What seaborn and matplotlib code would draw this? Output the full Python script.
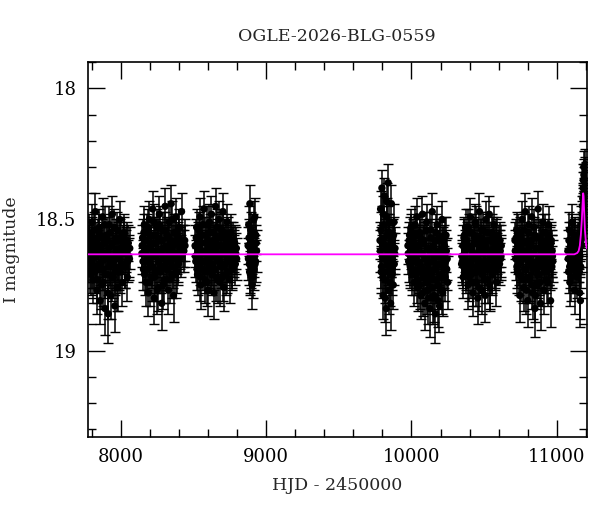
import numpy as np
import pandas as pd
import matplotlib
matplotlib.use('Agg')
import matplotlib.pyplot as plt
from matplotlib.ticker import MultipleLocator, FormatStrFormatter
import seaborn as sns

# ---- observing seasons: HJD-2450000, I mag, error ----
# Season 1
t1 = [7776, 7781, 7787, 7792, 7798, 7803, 7809, 7815, 7820, 7826, 7831, 7837, 7842, 7848, 7854,
      7859, 7865, 7870, 7876, 7882, 7887, 7893, 7898, 7904, 7910, 7915, 7921, 7926, 7932, 7938,
      7943, 7949, 7954, 7960, 7966, 7971, 7977, 7982, 7988, 7994, 7999, 8005, 8011, 8017, 8024,
      8031, 8038, 8046, 8053, 8061]
m1 = [18.62, 18.55, 18.70, 18.58, 18.66, 18.51, 18.73, 18.60, 18.68, 18.47,
      18.64, 18.77, 18.57, 18.69, 18.53, 18.81, 18.61, 18.66, 18.49, 18.74,
      18.59, 18.84, 18.63, 18.56, 18.71, 18.86, 18.52, 18.67, 18.79, 18.60,
      18.48, 18.72, 18.65, 18.83, 18.57, 18.69, 18.54, 18.76, 18.62, 18.50,
      18.70, 18.58, 18.74, 18.63, 18.55, 18.68, 18.61, 18.72, 18.59, 18.65]
e1 = [0.08, 0.07, 0.08, 0.07, 0.08, 0.07, 0.09, 0.07, 0.08, 0.07,
      0.08, 0.09, 0.07, 0.08, 0.07, 0.09, 0.08, 0.08, 0.07, 0.09,
      0.07, 0.10, 0.08, 0.07, 0.08, 0.11, 0.07, 0.08, 0.09, 0.08,
      0.07, 0.08, 0.08, 0.10, 0.07, 0.08, 0.07, 0.09, 0.08, 0.07,
      0.08, 0.07, 0.09, 0.08, 0.07, 0.08, 0.08, 0.09, 0.07, 0.08]
t1b = [7778, 7784, 7790, 7795, 7800, 7806, 7812, 7817, 7823, 7829, 7834, 7840, 7845, 7851, 7857,
       7862, 7868, 7873, 7879, 7885, 7890, 7896, 7901, 7907, 7913, 7918, 7924, 7929, 7935, 7941,
       7946, 7952, 7957, 7963, 7969, 7974, 7980, 7985, 7991, 7997, 8002, 8008, 8014, 8020, 8027,
       8034, 8042, 8049, 8056, 8063]
m1b = [18.66, 18.59, 18.63, 18.71, 18.56, 18.68, 18.61, 18.54, 18.70, 18.64,
       18.58, 18.73, 18.62, 18.55, 18.67, 18.60, 18.75, 18.57, 18.69, 18.63,
       18.52, 18.71, 18.65, 18.58, 18.78, 18.61, 18.68, 18.55, 18.64, 18.72,
       18.59, 18.66, 18.53, 18.70, 18.62, 18.76, 18.58, 18.65, 18.69, 18.57,
       18.63, 18.67, 18.60, 18.56, 18.68, 18.62, 18.58, 18.66, 18.64, 18.61]
e1b = [0.08, 0.07, 0.08, 0.08, 0.07, 0.08, 0.08, 0.07, 0.08, 0.08,
       0.07, 0.09, 0.08, 0.07, 0.08, 0.08, 0.09, 0.07, 0.08, 0.08,
       0.07, 0.09, 0.08, 0.07, 0.10, 0.08, 0.08, 0.07, 0.08, 0.09,
       0.07, 0.08, 0.07, 0.09, 0.08, 0.09, 0.07, 0.08, 0.08, 0.07,
       0.08, 0.08, 0.08, 0.07, 0.08, 0.08, 0.07, 0.08, 0.08, 0.08]

# Season 2
t2 = [8146, 8151, 8157, 8163, 8168, 8174, 8180, 8186, 8191, 8197, 8203, 8209, 8214, 8220, 8226,
      8232, 8237, 8243, 8249, 8255, 8260, 8266, 8272, 8278, 8283, 8289, 8295, 8301, 8306, 8312,
      8318, 8324, 8329, 8335, 8341, 8347, 8352, 8358, 8364, 8370, 8375, 8381, 8387, 8393, 8398,
      8404, 8410, 8419, 8430, 8441]
m2 = [18.63, 18.57, 18.69, 18.52, 18.66, 18.74, 18.55, 18.61, 18.78, 18.50,
      18.67, 18.59, 18.72, 18.46, 18.64, 18.80, 18.56, 18.70, 18.53, 18.62,
      18.76, 18.48, 18.68, 18.58, 18.82, 18.54, 18.65, 18.73, 18.45, 18.61,
      18.69, 18.57, 18.77, 18.51, 18.66, 18.44, 18.71, 18.60, 18.79, 18.55,
      18.64, 18.49, 18.70, 18.58, 18.67, 18.53, 18.62, 18.47, 18.60, 18.58]
e2 = [0.08, 0.07, 0.08, 0.07, 0.08, 0.09, 0.07, 0.08, 0.09, 0.07,
      0.08, 0.07, 0.09, 0.07, 0.08, 0.10, 0.07, 0.08, 0.07, 0.08,
      0.09, 0.07, 0.08, 0.07, 0.10, 0.07, 0.08, 0.09, 0.07, 0.08,
      0.08, 0.07, 0.09, 0.07, 0.08, 0.07, 0.09, 0.08, 0.10, 0.07,
      0.08, 0.07, 0.08, 0.07, 0.08, 0.07, 0.08, 0.07, 0.08, 0.08]
t2b = [8148, 8154, 8160, 8165, 8171, 8177, 8183, 8188, 8194, 8200, 8206, 8211, 8217, 8223, 8229,
       8234, 8240, 8246, 8252, 8257, 8263, 8269, 8275, 8280, 8286, 8292, 8298, 8303, 8309, 8315,
       8321, 8326, 8332, 8338, 8344, 8349, 8355, 8361, 8367, 8372, 8378, 8384, 8390, 8395, 8401,
       8407, 8414, 8424, 8435, 8443]
m2b = [18.60, 18.66, 18.55, 18.71, 18.63, 18.58, 18.69, 18.53, 18.65, 18.74,
       18.61, 18.56, 18.68, 18.62, 18.51, 18.72, 18.64, 18.59, 18.77, 18.57,
       18.66, 18.52, 18.70, 18.63, 18.58, 18.75, 18.61, 18.54, 18.67, 18.69,
       18.56, 18.64, 18.60, 18.73, 18.58, 18.62, 18.50, 18.68, 18.65, 18.59,
       18.71, 18.55, 18.63, 18.66, 18.57, 18.61, 18.64, 18.59, 18.62, 18.60]
e2b = [0.08, 0.08, 0.07, 0.08, 0.08, 0.07, 0.08, 0.07, 0.08, 0.09,
       0.08, 0.07, 0.08, 0.08, 0.07, 0.09, 0.08, 0.07, 0.09, 0.07,
       0.08, 0.07, 0.08, 0.08, 0.07, 0.09, 0.08, 0.07, 0.08, 0.08,
       0.07, 0.08, 0.08, 0.09, 0.07, 0.08, 0.07, 0.08, 0.08, 0.07,
       0.09, 0.07, 0.08, 0.08, 0.07, 0.08, 0.08, 0.07, 0.08, 0.08]

# Season 3
t3 = [8512, 8517, 8523, 8529, 8534, 8540, 8546, 8551, 8557, 8563, 8568, 8574, 8580, 8585, 8591,
      8597, 8602, 8608, 8614, 8619, 8625, 8631, 8636, 8642, 8648, 8653, 8659, 8665, 8670, 8676,
      8682, 8687, 8693, 8699, 8704, 8710, 8716, 8721, 8727, 8733, 8738, 8744, 8750, 8756, 8762,
      8768, 8775, 8782, 8789, 8796]
m3 = [18.60, 18.66, 18.53, 18.71, 18.58, 18.64, 18.49, 18.75, 18.62, 18.56,
      18.69, 18.46, 18.73, 18.59, 18.66, 18.52, 18.77, 18.61, 18.55, 18.70,
      18.48, 18.67, 18.58, 18.78, 18.63, 18.45, 18.72, 18.57, 18.65, 18.50,
      18.74, 18.60, 18.54, 18.68, 18.47, 18.76, 18.62, 18.57, 18.71, 18.51,
      18.66, 18.59, 18.73, 18.55, 18.64, 18.69, 18.58, 18.62, 18.67, 18.61]
e3 = [0.08, 0.08, 0.07, 0.08, 0.07, 0.08, 0.07, 0.09, 0.08, 0.07,
      0.08, 0.07, 0.09, 0.07, 0.08, 0.07, 0.10, 0.08, 0.07, 0.08,
      0.07, 0.08, 0.07, 0.10, 0.08, 0.07, 0.09, 0.07, 0.08, 0.07,
      0.09, 0.08, 0.07, 0.08, 0.07, 0.09, 0.08, 0.07, 0.08, 0.07,
      0.08, 0.07, 0.09, 0.07, 0.08, 0.08, 0.07, 0.08, 0.08, 0.08]
t3b = [8514, 8520, 8526, 8531, 8537, 8543, 8548, 8554, 8560, 8565, 8571, 8577, 8582, 8588, 8594,
       8599, 8605, 8611, 8616, 8622, 8628, 8633, 8639, 8645, 8650, 8656, 8662, 8667, 8673, 8679,
       8684, 8690, 8696, 8701, 8707, 8713, 8718, 8724, 8730, 8735, 8741, 8747, 8753, 8759, 8765,
       8771, 8778, 8785, 8792, 8798]
m3b = [18.64, 18.57, 18.69, 18.61, 18.54, 18.67, 18.72, 18.59, 18.63, 18.52,
       18.66, 18.70, 18.56, 18.62, 18.74, 18.58, 18.65, 18.51, 18.68, 18.60,
       18.71, 18.55, 18.64, 18.69, 18.58, 18.62, 18.53, 18.73, 18.66, 18.60,
       18.57, 18.68, 18.63, 18.72, 18.55, 18.61, 18.67, 18.59, 18.64, 18.70,
       18.56, 18.62, 18.66, 18.58, 18.68, 18.61, 18.64, 18.59, 18.63, 18.65]
e3b = [0.08, 0.07, 0.08, 0.08, 0.07, 0.08, 0.09, 0.07, 0.08, 0.07,
       0.08, 0.08, 0.07, 0.08, 0.09, 0.07, 0.08, 0.07, 0.08, 0.08,
       0.08, 0.07, 0.08, 0.08, 0.07, 0.08, 0.07, 0.09, 0.08, 0.08,
       0.07, 0.08, 0.08, 0.09, 0.07, 0.08, 0.08, 0.07, 0.08, 0.08,
       0.07, 0.08, 0.08, 0.07, 0.08, 0.08, 0.08, 0.07, 0.08, 0.08]

# Season 4 (short)
t4 = [8877, 8881, 8885, 8889, 8893, 8897, 8901, 8905, 8909, 8913, 8918, 8923, 8928, 8933]
m4 = [18.60, 18.52, 18.67, 18.44, 18.71, 18.58, 18.64, 18.75, 18.55, 18.62, 18.69, 18.49, 18.66, 18.59]
e4 = [0.07, 0.07, 0.08, 0.07, 0.08, 0.07, 0.08, 0.09, 0.07, 0.08, 0.08, 0.07, 0.08, 0.07]
t4b = [8879, 8883, 8887, 8891, 8895, 8899, 8903, 8907, 8911, 8916, 8920, 8925, 8930, 8935]
m4b = [18.65, 18.57, 18.70, 18.61, 18.54, 18.68, 18.63, 18.59, 18.72, 18.50, 18.64, 18.67, 18.56, 18.62]
e4b = [0.08, 0.07, 0.08, 0.08, 0.07, 0.08, 0.08, 0.07, 0.08, 0.07, 0.08, 0.08, 0.07, 0.08]

# Season 5 (short)
t5 = [9784, 9788, 9792, 9797, 9801, 9805, 9810, 9814, 9818, 9823, 9827, 9831,
      9836, 9840, 9844, 9849, 9853, 9857, 9862, 9866, 9871, 9875, 9880, 9885]
m5 = [18.58, 18.46, 18.70, 18.38, 18.64, 18.79, 18.52, 18.41, 18.73, 18.60, 18.84, 18.49,
      18.67, 18.36, 18.77, 18.55, 18.62, 18.82, 18.44, 18.69, 18.57, 18.75, 18.51, 18.63]
e5 = [0.07, 0.07, 0.08, 0.07, 0.08, 0.09, 0.07, 0.07, 0.09, 0.08, 0.10, 0.07,
      0.08, 0.07, 0.09, 0.07, 0.08, 0.10, 0.07, 0.08, 0.07, 0.09, 0.07, 0.08]
t5b = [9786, 9790, 9794, 9799, 9803, 9807, 9812, 9816, 9820, 9825, 9829, 9833,
       9838, 9842, 9846, 9851, 9855, 9859, 9864, 9868, 9873, 9877, 9882, 9887]
m5b = [18.62, 18.54, 18.68, 18.59, 18.72, 18.48, 18.65, 18.57, 18.80, 18.61, 18.43, 18.70,
       18.55, 18.66, 18.51, 18.74, 18.60, 18.64, 18.58, 18.71, 18.63, 18.56, 18.67, 18.61]
e5b = [0.08, 0.07, 0.08, 0.07, 0.08, 0.07, 0.08, 0.07, 0.09, 0.08, 0.07, 0.08,
       0.07, 0.08, 0.07, 0.09, 0.08, 0.08, 0.07, 0.08, 0.08, 0.07, 0.08, 0.08]

# Season 6
t6 = [9976, 9981, 9987, 9992, 9998, 10003, 10009, 10014, 10020, 10026, 10031, 10037, 10042, 10048,
      10053, 10059, 10065, 10070, 10076, 10081, 10087, 10092, 10098, 10104, 10109, 10115, 10120,
      10126, 10131, 10137, 10143, 10148, 10154, 10159, 10165, 10170, 10176, 10182, 10187, 10193,
      10198, 10204, 10210, 10215, 10221, 10227, 10232, 10238, 10243, 10249]
m6 = [18.60, 18.66, 18.56, 18.68, 18.53, 18.71, 18.61, 18.57, 18.74, 18.52,
      18.66, 18.49, 18.76, 18.60, 18.70, 18.55, 18.79, 18.63, 18.48, 18.72,
      18.58, 18.82, 18.65, 18.51, 18.77, 18.61, 18.69, 18.84, 18.54, 18.73,
      18.47, 18.80, 18.64, 18.58, 18.86, 18.68, 18.52, 18.75, 18.62, 18.83,
      18.57, 18.71, 18.50, 18.78, 18.65, 18.60, 18.72, 18.56, 18.69, 18.74]
e6 = [0.07, 0.08, 0.07, 0.08, 0.07, 0.08, 0.08, 0.07, 0.09, 0.07,
      0.08, 0.07, 0.09, 0.08, 0.08, 0.07, 0.09, 0.08, 0.07, 0.08,
      0.07, 0.10, 0.08, 0.07, 0.09, 0.08, 0.08, 0.11, 0.07, 0.09,
      0.07, 0.10, 0.08, 0.07, 0.11, 0.08, 0.07, 0.09, 0.08, 0.10,
      0.07, 0.08, 0.07, 0.09, 0.08, 0.08, 0.09, 0.07, 0.08, 0.10]
t6b = [9978, 9984, 9989, 9995, 10000, 10006, 10012, 10017, 10023, 10028, 10034, 10039, 10045,
       10050, 10056, 10062, 10067, 10073, 10078, 10084, 10089, 10095, 10101, 10106, 10112, 10117,
       10123, 10128, 10134, 10140, 10145, 10151, 10156, 10162, 10168, 10173, 10179, 10184, 10190,
       10196, 10201, 10207, 10212, 10218, 10224, 10229, 10235, 10240, 10246]
m6b = [18.63, 18.58, 18.67, 18.61, 18.55, 18.69, 18.64, 18.59, 18.71, 18.62,
       18.56, 18.73, 18.66, 18.60, 18.75, 18.57, 18.68, 18.63, 18.78, 18.59,
       18.70, 18.65, 18.54, 18.74, 18.67, 18.80, 18.62, 18.71, 18.57, 18.76,
       18.66, 18.60, 18.79, 18.69, 18.55, 18.73, 18.64, 18.81, 18.67, 18.58,
       18.72, 18.63, 18.77, 18.61, 18.68, 18.56, 18.66, 18.62, 18.65]
e6b = [0.08, 0.07, 0.08, 0.08, 0.07, 0.08, 0.08, 0.07, 0.08, 0.08,
       0.07, 0.09, 0.08, 0.07, 0.09, 0.07, 0.08, 0.08, 0.09, 0.07,
       0.08, 0.08, 0.07, 0.09, 0.08, 0.10, 0.08, 0.08, 0.07, 0.09,
       0.08, 0.07, 0.10, 0.08, 0.07, 0.09, 0.08, 0.10, 0.08, 0.07,
       0.09, 0.08, 0.09, 0.08, 0.08, 0.07, 0.08, 0.08, 0.08]

# Season 7
t7 = [10345, 10350, 10356, 10361, 10367, 10372, 10378, 10384, 10389, 10395, 10400, 10406, 10412,
      10417, 10423, 10428, 10434, 10440, 10445, 10451, 10456, 10462, 10468, 10473, 10479, 10484,
      10490, 10496, 10501, 10507, 10512, 10518, 10524, 10529, 10535, 10540, 10546, 10552, 10557,
      10563, 10568, 10574, 10580, 10585, 10591, 10597, 10603, 10609, 10614, 10618]
m7 = [18.67, 18.66, 18.72, 18.57, 18.64, 18.53, 18.69, 18.60, 18.75, 18.55,
      18.67, 18.49, 18.71, 18.62, 18.78, 18.56, 18.65, 18.51, 18.74, 18.59,
      18.80, 18.63, 18.47, 18.70, 18.57, 18.77, 18.54, 18.68, 18.61, 18.79,
      18.50, 18.66, 18.73, 18.58, 18.48, 18.76, 18.62, 18.55, 18.71, 18.64,
      18.52, 18.69, 18.59, 18.74, 18.56, 18.66, 18.62, 18.58, 18.65, 18.60]
e7 = [0.08, 0.08, 0.08, 0.07, 0.08, 0.07, 0.08, 0.08, 0.09, 0.07,
      0.08, 0.07, 0.09, 0.08, 0.09, 0.07, 0.08, 0.07, 0.09, 0.07,
      0.10, 0.08, 0.07, 0.08, 0.07, 0.09, 0.07, 0.08, 0.08, 0.10,
      0.07, 0.08, 0.09, 0.07, 0.07, 0.09, 0.08, 0.07, 0.08, 0.08,
      0.07, 0.08, 0.07, 0.09, 0.07, 0.08, 0.08, 0.07, 0.08, 0.08]
t7b = [10347, 10353, 10358, 10364, 10369, 10375, 10381, 10386, 10392, 10397, 10403, 10409, 10414,
       10420, 10425, 10431, 10437, 10442, 10448, 10453, 10459, 10465, 10470, 10476, 10481, 10487,
       10493, 10498, 10504, 10509, 10515, 10521, 10526, 10532, 10537, 10543, 10549, 10554, 10560,
       10565, 10571, 10577, 10582, 10588, 10594, 10600, 10606, 10611, 10616]
m7b = [18.64, 18.60, 18.68, 18.56, 18.62, 18.70, 18.58, 18.66, 18.53, 18.72,
       18.61, 18.67, 18.55, 18.74, 18.63, 18.59, 18.70, 18.52, 18.68, 18.65,
       18.57, 18.76, 18.61, 18.66, 18.54, 18.71, 18.63, 18.58, 18.73, 18.60,
       18.67, 18.55, 18.69, 18.62, 18.75, 18.58, 18.64, 18.70, 18.56, 18.66,
       18.61, 18.68, 18.57, 18.63, 18.65, 18.60, 18.67, 18.62, 18.64]
e7b = [0.08, 0.08, 0.08, 0.07, 0.08, 0.08, 0.07, 0.08, 0.07, 0.09,
       0.08, 0.08, 0.07, 0.09, 0.08, 0.07, 0.08, 0.07, 0.08, 0.08,
       0.07, 0.09, 0.08, 0.08, 0.07, 0.08, 0.08, 0.07, 0.09, 0.08,
       0.08, 0.07, 0.08, 0.08, 0.09, 0.07, 0.08, 0.08, 0.07, 0.08,
       0.08, 0.08, 0.07, 0.08, 0.08, 0.08, 0.08, 0.08, 0.08]

# Season 8
t8 = [10712, 10717, 10723, 10728, 10734, 10739, 10745, 10750, 10756, 10761, 10767, 10772, 10778,
      10783, 10789, 10794, 10800, 10805, 10811, 10816, 10822, 10827, 10833, 10838, 10844, 10849,
      10855, 10860, 10866, 10871, 10877, 10882, 10888, 10893, 10899, 10904, 10910, 10915, 10921,
      10926, 10932, 10937, 10943, 10948, 10953, 10957, 10962, 10966, 10970]
m8 = [18.58, 18.65, 18.54, 18.70, 18.61, 18.67, 18.79, 18.56, 18.72, 18.50,
      18.64, 18.76, 18.59, 18.47, 18.69, 18.62, 18.81, 18.55, 18.73, 18.60,
      18.66, 18.49, 18.78, 18.63, 18.53, 18.84, 18.68, 18.57, 18.75, 18.46,
      18.71, 18.61, 18.82, 18.58, 18.66, 18.51, 18.77, 18.63, 18.55, 18.70,
      18.59, 18.74, 18.52, 18.67, 18.62, 18.81, 18.58, 18.68, 18.64]
e8 = [0.07, 0.08, 0.07, 0.08, 0.08, 0.08, 0.10, 0.07, 0.09, 0.07,
      0.08, 0.09, 0.07, 0.07, 0.08, 0.08, 0.10, 0.07, 0.09, 0.08,
      0.08, 0.07, 0.10, 0.08, 0.07, 0.11, 0.08, 0.07, 0.09, 0.07,
      0.08, 0.08, 0.10, 0.07, 0.08, 0.07, 0.09, 0.08, 0.07, 0.08,
      0.07, 0.09, 0.07, 0.08, 0.08, 0.10, 0.07, 0.08, 0.08]
t8b = [10714, 10720, 10725, 10731, 10736, 10742, 10747, 10753, 10758, 10764, 10769, 10775, 10780,
       10786, 10791, 10797, 10802, 10808, 10813, 10819, 10824, 10830, 10835, 10841, 10846, 10852,
       10857, 10863, 10868, 10874, 10879, 10885, 10890, 10896, 10901, 10907, 10912, 10918, 10923,
       10929, 10934, 10940, 10945, 10950, 10955, 10959, 10964, 10968, 10972]
m8b = [18.62, 18.57, 18.68, 18.63, 18.55, 18.71, 18.60, 18.66, 18.58, 18.73,
       18.62, 18.54, 18.69, 18.65, 18.77, 18.59, 18.64, 18.52, 18.72, 18.67,
       18.58, 18.75, 18.63, 18.69, 18.56, 18.79, 18.61, 18.66, 18.71, 18.57,
       18.64, 18.74, 18.59, 18.68, 18.62, 18.55, 18.70, 18.65, 18.60, 18.73,
       18.63, 18.57, 18.67, 18.61, 18.69, 18.59, 18.64, 18.62, 18.66]
e8b = [0.08, 0.07, 0.08, 0.08, 0.07, 0.08, 0.08, 0.08, 0.07, 0.09,
       0.08, 0.07, 0.08, 0.08, 0.09, 0.07, 0.08, 0.07, 0.09, 0.08,
       0.07, 0.09, 0.08, 0.08, 0.07, 0.10, 0.08, 0.08, 0.09, 0.07,
       0.08, 0.09, 0.07, 0.08, 0.08, 0.07, 0.08, 0.08, 0.08, 0.09,
       0.08, 0.07, 0.08, 0.08, 0.08, 0.07, 0.08, 0.08, 0.08]

# Season 9 (event rising at the end)
t9 = [11076, 11081, 11086, 11090, 11095, 11100, 11106, 11111, 11117, 11122, 11128, 11133, 11139,
      11144, 11149, 11153, 11157, 11161, 11164, 11167, 11170, 11173, 11175, 11177, 11179, 11181,
      11183, 11185, 11187, 11189, 11191, 11193, 11195, 11197, 11199, 11201, 11203, 11205]
m9 = [18.62, 18.70, 18.54, 18.74, 18.58, 18.66, 18.51, 18.69, 18.60, 18.77, 18.56, 18.64, 18.72,
      18.58, 18.66, 18.61, 18.78, 18.59, 18.68, 18.55, 18.60, 18.50, 18.56, 18.45, 18.52, 18.38,
      18.44, 18.30, 18.42, 18.35, 18.48, 18.32, 18.45, 18.40, 18.50, 18.37, 18.47, 18.43]
e9 = [0.08, 0.08, 0.07, 0.09, 0.07, 0.08, 0.07, 0.08, 0.08, 0.09, 0.07, 0.08, 0.08,
      0.07, 0.08, 0.08, 0.10, 0.07, 0.08, 0.07, 0.08, 0.07, 0.07, 0.07, 0.07, 0.06,
      0.07, 0.06, 0.07, 0.06, 0.07, 0.06, 0.07, 0.06, 0.07, 0.06, 0.07, 0.07]
t9b = [11078, 11083, 11088, 11093, 11098, 11103, 11108, 11114, 11120, 11125, 11131, 11136, 11142,
       11147, 11151, 11155, 11159, 11162, 11166, 11169, 11172, 11174, 11176, 11178, 11180, 11182,
       11184, 11186, 11188, 11190, 11192, 11194, 11196, 11198, 11200, 11202, 11204, 11206]
m9b = [18.65, 18.58, 18.68, 18.61, 18.72, 18.55, 18.64, 18.60, 18.67, 18.57, 18.70, 18.62, 18.59,
       18.66, 18.63, 18.70, 18.64, 18.81, 18.58, 18.52, 18.57, 18.48, 18.54, 18.42, 18.47, 18.35,
       18.40, 18.33, 18.46, 18.38, 18.43, 18.29, 18.41, 18.36, 18.44, 18.34, 18.40, 18.45]
e9b = [0.08, 0.07, 0.08, 0.08, 0.09, 0.07, 0.08, 0.08, 0.08, 0.07, 0.08, 0.08, 0.07,
       0.08, 0.08, 0.08, 0.08, 0.10, 0.07, 0.07, 0.07, 0.07, 0.07, 0.06, 0.07, 0.06,
       0.06, 0.06, 0.07, 0.06, 0.06, 0.06, 0.06, 0.06, 0.07, 0.06, 0.06, 0.07]

# Microlensing model curve
model_t = [7773, 11120, 11140, 11150, 11158, 11165, 11172, 11177, 11181, 11184, 11188, 11193, 11200, 11206]
model_m = [18.633, 18.633, 18.628, 18.62, 18.60, 18.56, 18.50, 18.44, 18.40, 18.41, 18.47, 18.54, 18.59, 18.61]

seasons = [(t1, m1, e1), (t1b, m1b, e1b), (t2, m2, e2), (t2b, m2b, e2b),
           (t3, m3, e3), (t3b, m3b, e3b), (t4, m4, e4), (t4b, m4b, e4b),
           (t5, m5, e5), (t5b, m5b, e5b), (t6, m6, e6), (t6b, m6b, e6b),
           (t7, m7, e7), (t7b, m7b, e7b), (t8, m8, e8), (t8b, m8b, e8b),
           (t9, m9, e9), (t9b, m9b, e9b)]
data = pd.concat([pd.DataFrame({'hjd': t, 'mag': m, 'err': e}) for t, m, e in seasons],
                 ignore_index=True)

sns.set_style('ticks')
plt.rcParams['font.family'] = ['DejaVu Serif']

fig = plt.figure(figsize=(6, 5.12), dpi=100)
ax = fig.add_axes([0.146, 0.1465, 0.832, 0.732])

ax.errorbar(data['hjd'], data['mag'], yerr=data['err'], fmt='none', ecolor='black',
            elinewidth=1.1, capsize=3.5, capthick=1.0, zorder=2)
sns.scatterplot(data=data, x='hjd', y='mag', ax=ax, color='black', s=28,
                edgecolor='none', linewidth=0, zorder=3, legend=False)
sns.lineplot(x=model_t, y=model_m, ax=ax, color='#ff00ff', linewidth=1.3,
             estimator=None, sort=False, zorder=4)

ax.set_xlim(7773, 11206)
ax.set_ylim(19.33, 17.90)

ax.xaxis.set_major_locator(MultipleLocator(1000))
ax.xaxis.set_minor_locator(MultipleLocator(200))
ax.yaxis.set_major_locator(MultipleLocator(0.5))
ax.yaxis.set_minor_locator(MultipleLocator(0.1))
ax.yaxis.set_major_formatter(FormatStrFormatter('%g'))

ax.tick_params(which='both', direction='in', top=True, right=True, colors='black',
               labelsize=13, width=1.0)
ax.tick_params(which='major', length=12, pad=8)
ax.tick_params(which='minor', length=6)
for sp in ax.spines.values():
    sp.set_color('black')
    sp.set_linewidth(1.2)

ax.set_xlabel('HJD - 2450000', fontsize=12.5, labelpad=8)
ax.set_ylabel('I magnitude', fontsize=12.5, labelpad=12)
ax.set_title('OGLE-2026-BLG-0559', fontsize=12.5, pad=15)

fig.savefig('out.png', dpi=100)
